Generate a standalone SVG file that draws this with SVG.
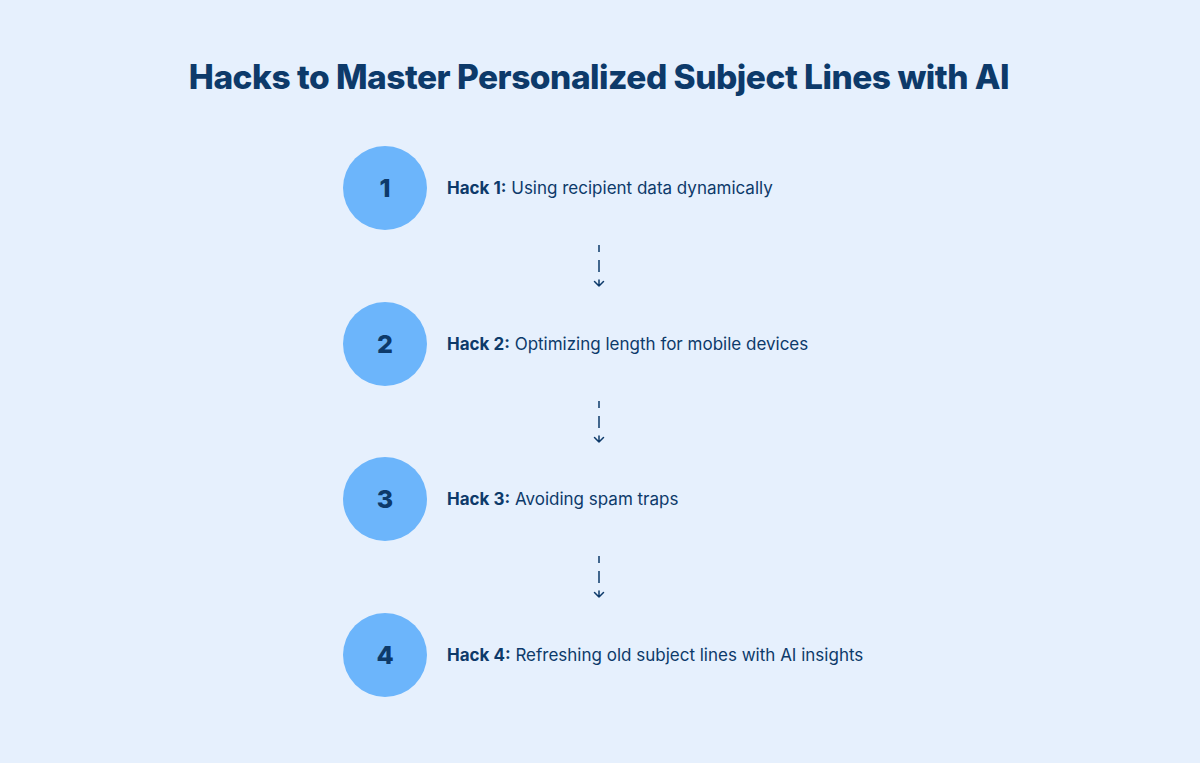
<svg xmlns="http://www.w3.org/2000/svg" width="1200" height="763" viewBox="0 0 1200 763">
<defs>
<style>
.bg{fill:#e6f0fd}
.title{font-family:Inter,"Noto Sans",sans-serif;font-weight:800;font-size:33.5px;fill:#0d3a6a;letter-spacing:-0.5px}
.circ{fill:#6cb5fb}
.num{font-family:Inter,"Noto Sans",sans-serif;font-weight:800;font-size:25px;fill:#0d3a6a}
.lbl{font-family:Inter,"Noto Sans",sans-serif;font-size:17px;fill:#0d3a6a}
.lbl .b{font-weight:700}
.conn{stroke:#0d3a6a;stroke-width:1.5;fill:none;stroke-dasharray:7 8 12 20}
.head{stroke:#0d3a6a;stroke-width:1.5;fill:none;stroke-linecap:round;stroke-linejoin:round}
</style>
</defs>
<rect class="bg" x="0" y="0" width="1200" height="763"/>
<text class="title" x="599" y="89" text-anchor="middle">Hacks to Master Personalized Subject Lines with AI</text>
<g id="connectors">
<line class="conn" x1="599" y1="245" x2="599" y2="286"/>
<path class="head" d="M599 280 L599 286 M594.5 281.5 L599 286 L603.5 281.5"/>
<line class="conn" x1="599" y1="401" x2="599" y2="442"/>
<path class="head" d="M599 436 L599 442 M594.5 437.5 L599 442 L603.5 437.5"/>
<line class="conn" x1="599" y1="556" x2="599" y2="597"/>
<path class="head" d="M599 591 L599 597 M594.5 592.5 L599 597 L603.5 592.5"/>
</g>
<g id="node1">
<circle class="circ" cx="385" cy="188" r="42"/>
<text class="num" x="385" y="197" text-anchor="middle">1</text>
<text class="lbl" x="447" y="194"><tspan class="b">Hack 1:</tspan> Using recipient data dynamically</text>
</g>
<g id="node2">
<circle class="circ" cx="385" cy="344" r="42"/>
<text class="num" x="385" y="353" text-anchor="middle">2</text>
<text class="lbl" x="447" y="350"><tspan class="b">Hack 2:</tspan> Optimizing length for mobile devices</text>
</g>
<g id="node3">
<circle class="circ" cx="385" cy="499" r="42"/>
<text class="num" x="385" y="508" text-anchor="middle">3</text>
<text class="lbl" x="447" y="505"><tspan class="b">Hack 3:</tspan> Avoiding spam traps</text>
</g>
<g id="node4">
<circle class="circ" cx="385" cy="655" r="42"/>
<text class="num" x="385" y="664" text-anchor="middle">4</text>
<text class="lbl" x="447" y="661"><tspan class="b">Hack 4:</tspan> Refreshing old subject lines with AI insights</text>
</g>
</svg>
